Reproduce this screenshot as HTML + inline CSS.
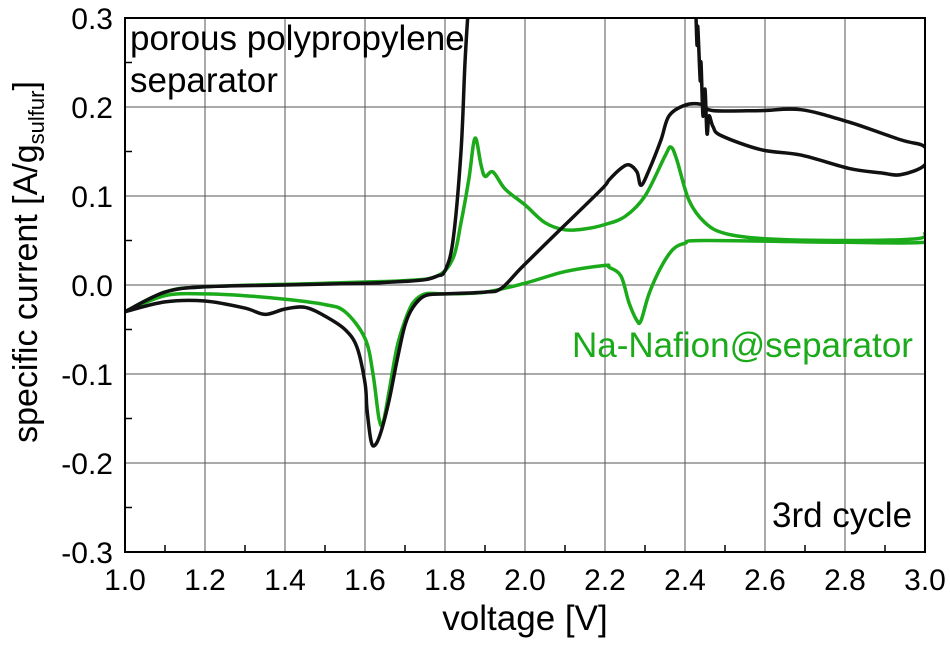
<!DOCTYPE html>
<html><head><meta charset="utf-8"><style>
body{margin:0;background:#fff}
svg text{font-family:"Liberation Sans",sans-serif}
</style></head><body>
<svg id="c" width="950" height="648" viewBox="0 0 950 648" xmlns="http://www.w3.org/2000/svg">
<defs><clipPath id="clip"><rect x="125" y="18" width="800" height="534"/></clipPath></defs>
<g id="grid"></g>
<g id="ticks"></g>
<g id="series" clip-path="url(#clip)"></g>
<rect x="125" y="18" width="800" height="534" fill="none" stroke="#000" stroke-width="2"/>
<text x="130" y="50" font-size="35">porous polypropylene</text>
<text x="130" y="92" font-size="35">separator</text>
<text x="572" y="357" font-size="35" fill="#1aaa1a">Na-Nafion@separator</text>
<text x="772" y="527" font-size="35">3rd cycle</text>
<text x="525" y="630" font-size="35" text-anchor="middle">voltage [V]</text>
<text transform="translate(37,262) rotate(-90)" font-size="34" text-anchor="middle">specific current [A/g<tspan font-size="22" dy="7">sulfur</tspan><tspan dy="-7">]</tspan></text>
</svg>
<script>
const xTicks=[1.0,1.2,1.4,1.6,1.8,2.0,2.2,2.4,2.6,2.8,3.0];
const yTicks=[0.3,0.2,0.1,0.0,-0.1,-0.2,-0.3];
const blackV=[1.0,1.1,1.2,1.4,1.6,1.7,1.75,1.78,1.8,1.82,1.84,1.85,1.86,1.87,
 2.415,2.42,2.425,2.43,2.432,2.438,2.44,2.445,2.45,2.455,2.46,2.47,2.49,2.59,2.69,2.81,2.89,2.94,3.0,
 3.0,2.94,2.81,2.69,2.59,2.47,2.44,2.4,2.36,2.34,2.31,2.29,2.28,2.26,2.24,2.21,2.19,2.06,1.99,1.94,1.9,1.8,1.75,1.72,1.7,1.68,1.66,1.64,1.625,1.615,1.605,1.6,1.58,1.55,1.5,1.45,1.4,1.35,1.3,1.2,1.1,1.0];
const blackI=[-0.03,-0.008,-0.002,0.0,0.002,0.004,0.006,0.01,0.016,0.05,0.15,0.25,0.32,0.36,
 0.36,0.32,0.33,0.27,0.29,0.23,0.25,0.19,0.22,0.17,0.19,0.178,0.168,0.152,0.146,0.131,0.126,0.124,0.135,
 0.155,0.163,0.183,0.197,0.196,0.196,0.203,0.202,0.19,0.163,0.129,0.112,0.127,0.135,0.131,0.118,0.107,0.05,0.019,-0.004,-0.008,-0.01,-0.012,-0.025,-0.045,-0.085,-0.13,-0.165,-0.18,-0.175,-0.14,-0.11,-0.07,-0.05,-0.035,-0.025,-0.027,-0.033,-0.026,-0.018,-0.019,-0.03];
const greenV=[1.0,1.1,1.2,1.5,1.7,1.78,1.82,1.84,1.86,1.875,1.89,1.9,1.92,1.95,2.0,2.05,2.1,2.15,2.2,2.25,2.3,2.35,2.365,2.38,2.41,2.45,2.5,2.6,2.8,2.98,3.0,
 3.0,2.8,2.45,2.4,2.37,2.34,2.31,2.29,2.28,2.26,2.24,2.21,2.2,2.1,2.0,1.9,1.8,1.75,1.72,1.7,1.68,1.66,1.645,1.635,1.62,1.6,1.55,1.5,1.4,1.3,1.2,1.1,1.0];
const greenI=[-0.03,-0.008,-0.002,0.002,0.005,0.01,0.03,0.07,0.12,0.165,0.135,0.122,0.127,0.108,0.09,0.07,0.062,0.063,0.068,0.077,0.1,0.145,0.155,0.14,0.095,0.07,0.058,0.052,0.05,0.052,0.058,
 0.048,0.048,0.05,0.047,0.04,0.02,-0.01,-0.04,-0.04,-0.02,0.01,0.02,0.022,0.015,0.002,-0.008,-0.01,-0.01,-0.02,-0.04,-0.07,-0.12,-0.155,-0.15,-0.1,-0.06,-0.03,-0.022,-0.016,-0.012,-0.01,-0.012,-0.03];
const NS="http://www.w3.org/2000/svg";
const X=v=>125+(v-1.0)*400, Y=i=>285-i*890;
function mk(t,a,p){const e=document.createElementNS(NS,t);for(const k in a)e.setAttribute(k,a[k]);p.appendChild(e);return e;}
const grid=document.getElementById('grid'),ticks=document.getElementById('ticks'),series=document.getElementById('series');
xTicks.forEach(v=>{
 const l=mk('line',{x1:X(v),x2:X(v),y1:18,y2:552,stroke:'#555','stroke-width':1},grid);
 
 
 const t=mk('text',{x:X(v),y:590,'font-size':30,'text-anchor':'middle'},ticks);t.textContent=v.toFixed(1);
 
 
});
for(let k=0;k<10;k++){const v=1.1+k*0.2;
 const m=mk('line',{x1:X(v),x2:X(v),y1:552,y2:545,stroke:'#000','stroke-width':1.5},ticks);
 
 
}
yTicks.forEach(v=>{
 const l=mk('line',{x1:125,x2:925,y1:Y(v),y2:Y(v),stroke:'#555','stroke-width':1},grid);
 
 
 const t=mk('text',{x:113,y:Y(v)+11,'font-size':30,'text-anchor':'end'},ticks);t.textContent=v.toFixed(1);
 
 
});
for(let k=0;k<6;k++){const v=-0.25+k*0.1;
 const m=mk('line',{x1:125,x2:132,y1:Y(v),y2:Y(v),stroke:'#000','stroke-width':1.5},ticks);
 
 
}
function path(V,I,col,name){
 const P=V.map((v,k)=>[X(v),Y(I[k])]);
 let d='M'+P[0][0].toFixed(1)+','+P[0][1].toFixed(1);
 for(let k=0;k<P.length-1;k++){
  const p0=P[Math.max(0,k-1)],p1=P[k],p2=P[k+1],p3=P[Math.min(P.length-1,k+2)];
  const c1=[p1[0]+(p2[0]-p0[0])/6,p1[1]+(p2[1]-p0[1])/6],c2=[p2[0]-(p3[0]-p1[0])/6,p2[1]-(p3[1]-p1[1])/6];
  d+='C'+c1.map(n=>n.toFixed(1)).join(',')+' '+c2.map(n=>n.toFixed(1)).join(',')+' '+p2.map(n=>n.toFixed(1)).join(',');
 }
 const p=mk('path',{d:d,fill:'none',stroke:col,'stroke-width':3.5,'stroke-linejoin':'round'},series);
 
 
}
path(greenV,greenI,'#1aaa1a','series-nafion');
path(blackV,blackI,'#111','series-porous-pp');
</script>
</body></html>
